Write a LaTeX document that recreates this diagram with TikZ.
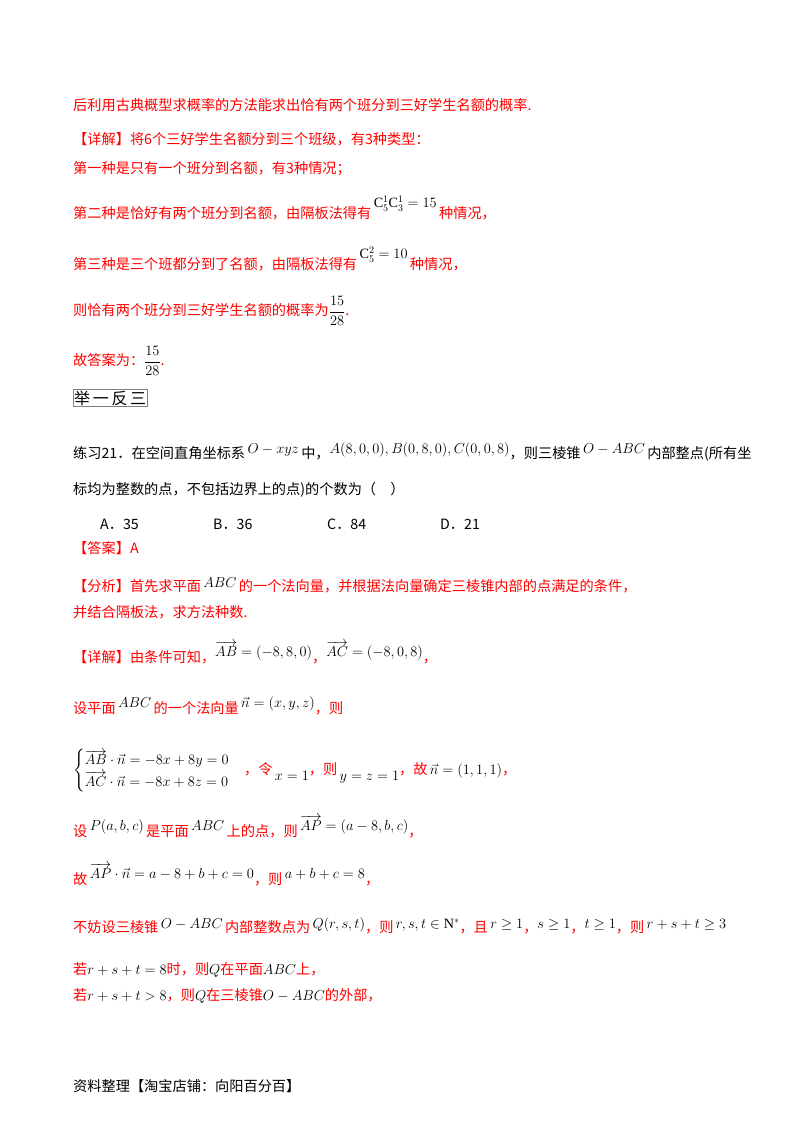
\documentclass[tikz,border=0pt]{standalone}
\usepackage{amsmath}
\usepackage{fontspec}
\setmainfont{Liberation Serif}
\newfontfamily\cjk{Noto Sans CJK SC}
\definecolor{rd}{RGB}{255,0,0}
\newcommand{\va}[1]{\overrightarrow{#1}}
\begin{document}
\begin{tikzpicture}[x=1pt,y=-1pt,
  t/.style={anchor=west,inner sep=0pt,font=\cjk\fontsize{14.2}{17}\selectfont},
  r/.style={t,text=rd}]
\useasboundingbox (0,0) rectangle (800,1132);
\node[r] (l1) at (73,105) {后利用古典概型求概率的方法能求出恰有两个班分到三好学生名额的概率.};
\node[r] (l2) at (73,139) {【详解】将6个三好学生名额分到三个班级，有3种类型：};
\node[r] (l3) at (73,169) {第一种是只有一个班分到名额，有3种情况；};
\node[r] (l4) at (73,208) {第二种是恰好有两个班分到名额，由隔板法得有\,\raisebox{11pt}{\color{black}\rmfamily $\mathrm{C}_5^1\mathrm{C}_3^1=15$}\,种情况，};
\node[r] (l5) at (73,259) {第三种是三个班都分到了名额，由隔板法得有\,\raisebox{11pt}{\color{black}\rmfamily $\mathrm{C}_5^2=10$}\,种情况，};
\node[r] (l6) at (73,311) {则恰有两个班分到三好学生名额的概率为{\color{black}\rmfamily $\dfrac{15}{28}$}.};
\node[r] (l7) at (73,361) {故答案为：{\color{black}\rmfamily $\dfrac{15}{28}$}.};
\node[anchor=west,draw=gray,inner sep=1pt,font=\cjk\fontsize{16}{17}\selectfont] (box) at (73,398) {举\,一\,反\,三};
\node[t] (q1) at (73,452) {练习21．在空间直角坐标系\,\raisebox{5pt}{\rmfamily $O-xyz$}\,中，\raisebox{5pt}{\rmfamily $A(8,0,0),B(0,8,0),C(0,0,8)$}，则三棱锥\,\raisebox{5pt}{\rmfamily $O-ABC$}\,内部整点(所有坐};
\node[t] (q2) at (73,490) {标均为整数的点，不包括边界上的点)的个数为（\quad）};
\node[t] (oa) at (100,524) {A．35};
\node[t] (ob) at (213,524) {B．36};
\node[t] (oc) at (327,524) {C．84};
\node[t] (od) at (440,524) {D．21};
\node[r] (ans) at (73,548) {【答案】A};
\node[r] (f1) at (73,585) {【分析】首先求平面\,\raisebox{4pt}{\color{black}\rmfamily $ABC$}\,的一个法向量，并根据法向量确定三棱锥内部的点满足的条件，};
\node[r] (f2) at (73,612) {并结合隔板法，求方法种数.};
\node[r] (d1) at (73,653) {【详解】由条件可知，\raisebox{6pt}{\color{black}\rmfamily $\va{AB}=(-8,8,0)$}，\raisebox{6pt}{\color{black}\rmfamily $\va{AC}=(-8,0,8)$}，};
\node[r] (d2) at (73,706) {设平面\,\raisebox{6pt}{\color{black}\rmfamily $ABC$}\,的一个法向量\,\raisebox{6pt}{\color{black}\rmfamily $\vec n=(x,y,z)$}，则};
\node[r] (d3) at (73,771) {{\color{black}\rmfamily $\begin{cases}\va{AB}\cdot\vec n=-8x+8y=0\\ \va{AC}\cdot\vec n=-8x+8z=0\end{cases}$}，令\,\raisebox{-6pt}{\color{black}\rmfamily $x=1$}，则\,\raisebox{-6pt}{\color{black}\rmfamily $y=z=1$}，故\,{\color{black}\rmfamily $\vec n=(1,1,1)$}，};
\node[r] (d4) at (73,827) {设\,\raisebox{6pt}{\color{black}\rmfamily $P(a,b,c)$}\,是平面\,\raisebox{6pt}{\color{black}\rmfamily $ABC$}\,上的点，则\,\raisebox{6pt}{\color{black}\rmfamily $\va{AP}=(a-8,b,c)$}，};
\node[r] (d5) at (73,875) {故\,\raisebox{6pt}{\color{black}\rmfamily $\va{AP}\cdot\vec n=a-8+b+c=0$}，则\,\raisebox{6pt}{\color{black}\rmfamily $a+b+c=8$}，};
\node[r] (d6) at (73,926) {不妨设三棱锥\,\raisebox{4pt}{\color{black}\rmfamily $O-ABC$}\,内部整数点为\,\raisebox{4pt}{\color{black}\rmfamily $Q(r,s,t)$}，则\,\raisebox{4pt}{\color{black}\rmfamily $r,s,t\in\mathrm{N}^*$}，且\,\raisebox{4pt}{\color{black}\rmfamily $r\ge1$}，\raisebox{4pt}{\color{black}\rmfamily $s\ge1$}，\raisebox{4pt}{\color{black}\rmfamily $t\ge1$}，则\,\raisebox{4pt}{\color{black}\rmfamily $r+s+t\ge3$}};
\node[r] (d7) at (73,970) {若{\color{black}\rmfamily $r+s+t=8$}时，则{\color{black}\rmfamily $Q$}在平面{\color{black}\rmfamily $ABC$}上，};
\node[r] (d8) at (73,996) {若{\color{black}\rmfamily $r+s+t>8$}，则{\color{black}\rmfamily $Q$}在三棱锥{\color{black}\rmfamily $O-ABC$}的外部，};
\node[t] (foot) at (73,1086) {资料整理【淘宝店铺：向阳百分百】};
\end{tikzpicture}
\end{document}
